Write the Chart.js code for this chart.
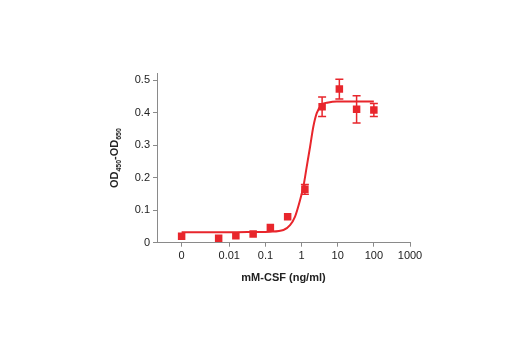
<!DOCTYPE html>
<html>
<head>
<meta charset="utf-8">
<script src="https://cdn.jsdelivr.net/npm/chart.js@4.4.1/dist/chart.umd.min.js"></script>
<style>
  html, body { margin: 0; padding: 0; background: #ffffff; }
  #wrap { width: 520px; height: 350px; }
</style>
</head>
<body>
<div id="wrap"><canvas id="doseChart" width="520" height="350"></canvas></div>
<script>
// Measured points (ng/ml), 0 is drawn at the "0" tick position
const concentrations = [0, 0.00508, 0.0152, 0.0457, 0.137, 0.412, 1.235, 3.70, 11.1, 33.3, 100];
const odValues = [0.020, 0.014, 0.021, 0.027, 0.047, 0.080, 0.164, 0.418, 0.472, 0.410, 0.408];
const odErrors = [0, 0, 0, 0, 0, 0, 0.015, 0.030, 0.030, 0.042, 0.020];

// Fitted curve
const curveX = [0, 0.01, 0.05, 0.134, 0.316, 0.48, 0.66, 0.91, 1.12, 1.39, 1.72, 2.12, 2.63, 3.63, 5.5, 9.4, 100];
const curveY = [0.032, 0.032, 0.033, 0.034, 0.039, 0.054, 0.080, 0.131, 0.172, 0.234, 0.295, 0.357, 0.398, 0.424, 0.431, 0.434, 0.434];

// Axis ticks
const xTickValues = [0, 0.01, 0.1, 1, 10, 100, 1000];
const xTickLabels = ['0', '0.01', '0.1', '1', '10', '100', '1000'];
const yTickValues = [0, 0.1, 0.2, 0.3, 0.4, 0.5];

const zeroPos = 0.00048; // where "0" sits on the log axis
const red = '#e8262c';
const axisGray = '#8a8a8a';
const fontFamily = "'Liberation Sans Narrow', 'Liberation Sans', Arial, sans-serif";

function toAxisX(v) {
  return v === 0 ? zeroPos : v;
}

// Vertical error bars with caps
const errorBarPlugin = {
  id: 'errorBars',
  afterDatasetsDraw(chart) {
    const xs = chart.scales.x;
    const ys = chart.scales.y;
    const ctx = chart.ctx;
    ctx.save();
    ctx.strokeStyle = red;
    ctx.lineWidth = 1.5;
    concentrations.forEach((c, i) => {
      const err = odErrors[i];
      if (!err) return;
      const px = xs.getPixelForValue(toAxisX(c));
      const top = ys.getPixelForValue(odValues[i] + err);
      const bottom = ys.getPixelForValue(odValues[i] - err);
      ctx.beginPath();
      ctx.moveTo(px, top);
      ctx.lineTo(px, bottom);
      ctx.moveTo(px - 4, top);
      ctx.lineTo(px + 4, top);
      ctx.moveTo(px - 4, bottom);
      ctx.lineTo(px + 4, bottom);
      ctx.stroke();
    });
    ctx.restore();
  }
};

// Y axis title with real subscripts: OD450-OD650
const yTitlePlugin = {
  id: 'yTitle',
  afterDraw(chart) {
    const area = chart.chartArea;
    const ctx = chart.ctx;
    const parts = [
      { t: 'OD', size: 11, dy: 0 },
      { t: '450', size: 7, dy: 3 },
      { t: '-OD', size: 11, dy: 0 },
      { t: '650', size: 7, dy: 3 }
    ];
    ctx.save();
    let total = 0;
    parts.forEach(p => {
      ctx.font = 'bold ' + p.size + 'px ' + fontFamily;
      p.w = ctx.measureText(p.t).width;
      total += p.w;
    });
    ctx.translate(118, (area.top + area.bottom) / 2);
    ctx.rotate(-Math.PI / 2);
    ctx.fillStyle = '#222';
    ctx.textBaseline = 'alphabetic';
    let x = -total / 2;
    parts.forEach(p => {
      ctx.font = 'bold ' + p.size + 'px ' + fontFamily;
      ctx.fillText(p.t, x, p.dy);
      x += p.w;
    });
    ctx.restore();
  }
};

new Chart(document.getElementById('doseChart'), {
  type: 'scatter',
  data: {
    datasets: [
      {
        label: 'mM-CSF',
        data: concentrations.map((c, i) => ({ x: toAxisX(c), y: odValues[i] })),
        backgroundColor: red,
        borderColor: red,
        pointStyle: 'rect',
        pointRadius: 5.3,
        borderWidth: 0
      },
      {
        label: 'fit',
        data: curveX.map((c, i) => ({ x: toAxisX(c), y: curveY[i] })),
        showLine: true,
        borderColor: red,
        borderWidth: 2,
        pointRadius: 0,
        cubicInterpolationMode: 'monotone',
        fill: false
      }
    ]
  },
  plugins: [errorBarPlugin, yTitlePlugin],
  options: {
    responsive: false,
    animation: false,
    layout: {
      padding: { left: 100, right: 110, top: 73.5, bottom: 62.3 }
    },
    plugins: {
      legend: { display: false },
      tooltip: { enabled: false }
    },
    scales: {
      x: {
        type: 'logarithmic',
        min: 0.0001,
        max: 1000,
        afterBuildTicks(scale) {
          scale.ticks = xTickValues.map(v => ({ value: toAxisX(v) }));
        },
        afterFit(scale) {
          scale.height = 45;
        },
        ticks: {
          autoSkip: false,
          maxRotation: 0,
          padding: 3,
          color: '#222',
          font: { family: fontFamily, size: 11 },
          callback: function(value, index) {
            return xTickLabels[index];
          }
        },
        grid: {
          drawOnChartArea: false,
          drawTicks: true,
          tickLength: 4,
          color: axisGray
        },
        border: { color: axisGray, width: 1 },
        title: {
          display: true,
          text: 'mM-CSF (ng/ml)',
          color: '#222',
          font: { family: fontFamily, size: 11, weight: 'bold' },
          padding: { top: 0, bottom: 3 }
        }
      },
      y: {
        min: 0,
        max: 0.52,
        afterBuildTicks(scale) {
          scale.ticks = yTickValues.map(v => ({ value: v }));
        },
        afterFit(scale) {
          scale.width = 57;
        },
        ticks: {
          padding: 3,
          color: '#222',
          font: { family: fontFamily, size: 11 },
          callback: value => String(Math.round(value * 10) / 10)
        },
        grid: {
          drawOnChartArea: false,
          drawTicks: true,
          tickLength: 4,
          color: axisGray
        },
        border: { color: axisGray, width: 1 }
      }
    }
  }
});
</script>
</body>
</html>
